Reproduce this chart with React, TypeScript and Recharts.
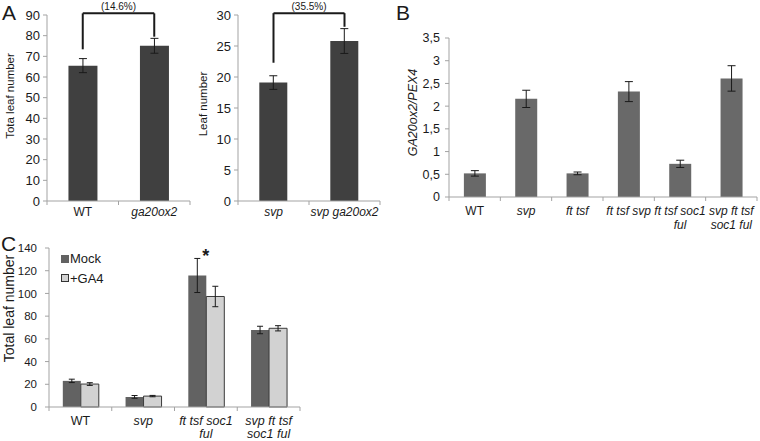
import { BarChart, Bar, XAxis, YAxis, ErrorBar, ReferenceLine, ReferenceDot, Legend } from 'recharts';

const FONT = '"Liberation Sans", Arial, Helvetica, sans-serif';
const AXIS = '#a3a3a3';
const INK = '#1a1a1a';

// Panel A (left): total leaf number
const aLeftCats = ['WT', 'ga20ox2'];
const aLeftValues = [65.5, 75.1];
const aLeftErrors = [3.4, 3.6];
const aLeftTicks = [0, 10, 20, 30, 40, 50, 60, 70, 80, 90];
const aLeftBracket = { from: 73.4, to: 79.5, top: 90.8, note: '(14.6%)' };

// Panel A (right): leaf number
const aRightCats = ['svp', 'svp ga20ox2'];
const aRightValues = [19.1, 25.8];
const aRightErrors = [1.1, 2.0];
const aRightTicks = [0, 5, 10, 15, 20, 25, 30];
const aRightBracket = { from: 22.3, to: 28.1, top: 30.3, note: '(35.5%)' };

// Panel B: GA20ox2/PEX4 expression
const bCats = ['WT', 'svp', 'ft tsf', 'ft tsf svp', 'ft tsf soc1 ful', 'svp ft tsf soc1 ful'];
const bValues = [0.52, 2.16, 0.52, 2.32, 0.73, 2.61];
const bErrors = [0.06, 0.19, 0.03, 0.22, 0.08, 0.28];
const bTicks = [0, 0.5, 1, 1.5, 2, 2.5, 3, 3.5];

// Panel C: total leaf number, mock vs GA4
const cCats = ['WT', 'svp', 'ft tsf soc1 ful', 'svp ft tsf soc1 ful'];
const cMock = [23, 8.9, 115.8, 67.8];
const cMockErr = [1.5, 1.2, 15, 3.3];
const cGA4 = [20.2, 9.6, 97.3, 69.3];
const cGA4Err = [1.2, 0.6, 9, 2.3];
const cTicks = [0, 20, 40, 60, 80, 100, 120, 140];
const cSeries = ['Mock', '+GA4'];
const cMark = { cat: 'ft tsf soc1 ful', y: 133, text: '*' };

// how long genotype names wrap under the axis
const labelLines: Record<string, string[]> = {
  'ft tsf soc1 ful': ['ft tsf soc1', 'ful'],
  'svp ft tsf soc1 ful': ['svp ft tsf', 'soc1 ful'],
};

const aLeftData = aLeftCats.map((name, i) => ({ name, value: aLeftValues[i], err: aLeftErrors[i] }));
const aRightData = aRightCats.map((name, i) => ({ name, value: aRightValues[i], err: aRightErrors[i] }));
const bData = bCats.map((name, i) => ({ name, value: bValues[i], err: bErrors[i] }));
const cData = cCats.map((name, i) => ({
  name,
  mock: cMock[i],
  mockErr: cMockErr[i],
  ga4: cGA4[i],
  ga4Err: cGA4Err[i],
}));

// category label plus Excel-style tick marks on the category boundaries
function CatTick({ x, y, payload, index, visibleTicksCount, band, fontSize = 12, lineGap = 14, gap = 6 }: any) {
  const lines = labelLines[payload.value] ?? [payload.value];
  const upright = payload.value === 'WT';
  const half = payload.offset || band / 2;
  const isLast = index === visibleTicksCount - 1;
  return (
    <g>
      <line x1={x - half} x2={x - half} y1={y} y2={y + 4} stroke={AXIS} />
      {isLast && <line x1={x + half} x2={x + half} y1={y} y2={y + 4} stroke={AXIS} />}
      <text
        x={x}
        y={y + gap}
        textAnchor="middle"
        fill={INK}
        fontFamily={FONT}
        fontSize={fontSize}
        fontStyle={upright ? 'normal' : 'italic'}
      >
        {lines.map((line: string, i: number) => (
          <tspan key={i} x={x} dy={i === 0 ? '0.71em' : lineGap}>
            {line}
          </tspan>
        ))}
      </text>
    </g>
  );
}

function YTitle({ viewBox, text, cx = 10, shift = 0, size = 12, italic = false }: any) {
  const x = (viewBox?.x ?? 0) + cx;
  const y = (viewBox?.y ?? 0) + (viewBox?.height ?? 0) / 2 + shift;
  return (
    <text
      x={x}
      y={y}
      transform={`rotate(-90 ${x} ${y})`}
      textAnchor="middle"
      dominantBaseline="central"
      fill={INK}
      fontFamily={FONT}
      fontSize={size}
      fontStyle={italic ? 'italic' : 'normal'}
    >
      {text}
    </text>
  );
}

function Bracket({ a, b, spec }: { a: string; b: string; spec: typeof aLeftBracket }) {
  return (
    <>
      <ReferenceLine segment={[{ x: a, y: spec.from }, { x: a, y: spec.top }]} stroke={INK} strokeWidth={2} ifOverflow="visible" />
      <ReferenceLine
        segment={[{ x: a, y: spec.top }, { x: b, y: spec.top }]}
        stroke={INK}
        strokeWidth={2}
        ifOverflow="visible"
        label={{ value: spec.note, position: 'top', offset: 3, fontSize: 10, fill: INK, fontFamily: FONT }}
      />
      <ReferenceLine segment={[{ x: b, y: spec.top }, { x: b, y: spec.to }]} stroke={INK} strokeWidth={2} ifOverflow="visible" />
    </>
  );
}

function PairPanel({ data, ticks, max, title, bracket, yWidth, titleX, titleShift }: any) {
  const plotW = 200 - yWidth - 10;
  return (
    <BarChart
      width={200}
      height={230}
      data={data}
      margin={{ top: 15, right: 10, bottom: 0, left: 0 }}
      barCategoryGap="30%"
    >
      <XAxis
        dataKey="name"
        height={29}
        stroke={AXIS}
        tickLine={false}
        tickSize={0}
        tickMargin={0}
        interval={0}
        tick={<CatTick fontSize={12} gap={6} band={plotW / data.length} />}
      />
      <YAxis
        domain={[0, max]}
        ticks={ticks}
        interval={0}
        width={yWidth}
        tickSize={4}
        tickMargin={3}
        stroke={AXIS}
        tick={{ fill: INK, fontSize: 13, fontFamily: FONT }}
        label={<YTitle text={title} cx={titleX} shift={titleShift} size={11.5} />}
      />
      <Bar dataKey="value" fill="#404040" isAnimationActive={false}>
        <ErrorBar dataKey="err" width={4} stroke={INK} strokeWidth={1} />
      </Bar>
      <Bracket a={data[0].name} b={data[1].name} spec={bracket} />
    </BarChart>
  );
}

function LegendBox({ payload }: any) {
  const entries = [...(payload ?? [])].sort((p: any, q: any) => cSeries.indexOf(p.value) - cSeries.indexOf(q.value));
  return (
    <div style={{ fontFamily: FONT, fontSize: 13, color: INK }}>
      {entries.map((entry: any) => (
        <div key={entry.value} style={{ display: 'flex', alignItems: 'center', height: 19.5 }}>
          <span
            style={{
              display: 'inline-block',
              width: 6,
              height: 6,
              marginRight: 1,
              background: entry.color,
              border: entry.value === '+GA4' ? '1px solid #333' : '1px solid ' + entry.color,
            }}
          />
          {entry.value}
        </div>
      ))}
    </div>
  );
}

const letter = (ch: string, left: number, top: number) => (
  <div style={{ position: 'absolute', left, top, fontSize: 21, lineHeight: 1, fontFamily: FONT, color: INK }}>{ch}</div>
);

export default function App() {
  return (
    <div style={{ position: 'absolute', left: 0, top: 0, width: 760, height: 441, background: '#fff', overflow: 'hidden' }}>
      {letter('A', 2, 2)}
      {letter('B', 396, 2)}
      {letter('C', 1, 233)}

      <div style={{ position: 'absolute', left: 0, top: 0 }}>
        <PairPanel
          data={aLeftData}
          ticks={aLeftTicks}
          max={90}
          title="Tota leaf number"
          bracket={aLeftBracket}
          yWidth={47}
          titleX={10}
          titleShift={-12}
        />
      </div>

      <div style={{ position: 'absolute', left: 190, top: 0 }}>
        <PairPanel
          data={aRightData}
          ticks={aRightTicks}
          max={30}
          title="Leaf number"
          bracket={aRightBracket}
          yWidth={48}
          titleX={13}
          titleShift={-4}
        />
      </div>

      <div style={{ position: 'absolute', left: 390, top: 0 }}>
        <BarChart
          width={370}
          height={240}
          data={bData}
          margin={{ top: 38, right: 3, bottom: 0, left: 0 }}
          barCategoryGap="29%"
        >
          <XAxis
            dataKey="name"
            height={43}
            stroke={AXIS}
            tickLine={false}
            tickSize={0}
            tickMargin={0}
            interval={0}
            tick={<CatTick fontSize={12} lineGap={14} gap={9} band={308 / bData.length} />}
          />
          <YAxis
            domain={[0, 3.5]}
            ticks={bTicks}
            interval={0}
            width={59}
            tickSize={4}
            tickMargin={5}
            stroke={AXIS}
            tickFormatter={(v: number) => String(v).replace('.', ',')}
            tick={{ fill: INK, fontSize: 12.5, fontFamily: FONT }}
            label={<YTitle text="GA20ox2/PEX4" cx={23} shift={-5} size={12.5} italic />}
          />
          <Bar dataKey="value" fill="#696969" isAnimationActive={false}>
            <ErrorBar dataKey="err" width={4} stroke={INK} strokeWidth={1} />
          </Bar>
        </BarChart>
      </div>

      <div style={{ position: 'absolute', left: 0, top: 230 }}>
        <BarChart
          width={380}
          height={211}
          data={cData}
          margin={{ top: 18, right: 80, bottom: 0, left: 0 }}
          barCategoryGap="22%"
          barGap={0}
        >
          <XAxis
            dataKey="name"
            height={34}
            stroke={AXIS}
            tickLine={false}
            tickSize={0}
            tickMargin={0}
            interval={0}
            tick={<CatTick fontSize={12.5} lineGap={13} gap={9} band={251 / cData.length} />}
          />
          <YAxis
            domain={[0, 140]}
            ticks={cTicks}
            interval={0}
            width={49}
            tickSize={4}
            tickMargin={8}
            stroke={AXIS}
            tick={{ fill: INK, fontSize: 11.5, fontFamily: FONT }}
            label={<YTitle text="Total leaf number" cx={9} shift={-19} size={14} />}
          />
          <Legend
            layout="vertical"
            align="center"
            verticalAlign="middle"
            wrapperStyle={{ left: 61, top: 19 }}
            content={<LegendBox />}
          />
          <Bar dataKey="mock" name="Mock" fill="#626262" isAnimationActive={false}>
            <ErrorBar dataKey="mockErr" width={3} stroke={INK} strokeWidth={1} />
          </Bar>
          <Bar dataKey="ga4" name="+GA4" fill="#d2d2d2" stroke="#3a3a3a" strokeWidth={1} isAnimationActive={false}>
            <ErrorBar dataKey="ga4Err" width={3} stroke={INK} strokeWidth={1} />
          </Bar>
          <ReferenceDot
            x={cMark.cat}
            y={cMark.y}
            r={0}
            ifOverflow="visible"
            label={{ value: cMark.text, position: 'center', fontSize: 18, fontWeight: 'bold', fill: INK, fontFamily: FONT }}
          />
        </BarChart>
      </div>
    </div>
  );
}
